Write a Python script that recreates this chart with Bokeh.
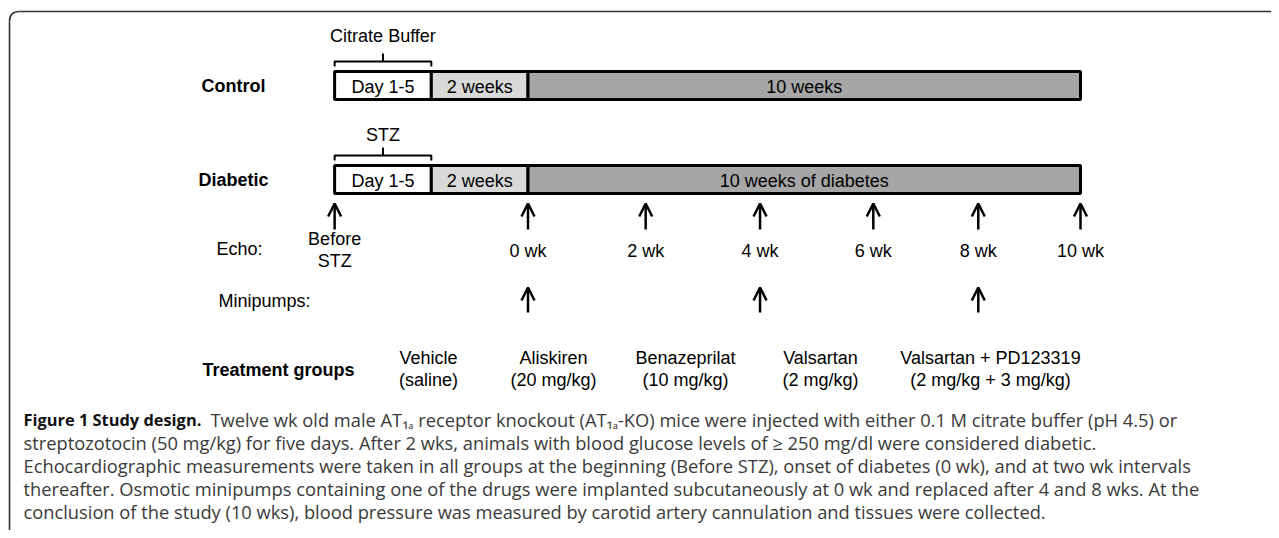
from bokeh.plotting import figure
from bokeh.models import ColumnDataSource, Range1d, Arrow, OpenHead
from bokeh.core.properties import value
from bokeh.embed import file_html
from bokeh.resources import INLINE

# ---------------- data ----------------
groups = ["Control", "Diabetic"]
bracket_labels = ["Citrate Buffer", "STZ"]
seg_labels_control = ["Day 1-5", "2 weeks", "10 weeks"]
seg_labels_diabetic = ["Day 1-5", "2 weeks", "10 weeks of diabetes"]
seg_start = [-3.5, -1.75, 0.0]          # timeline units (weeks after onset; pre-phase compressed)
seg_end = [-1.75, 0.0, 10.0]
seg_colors = ["#ffffff", "#d9d9d9", "#a6a6a6"]
echo_labels = ["", "0 wk", "2 wk", "4 wk", "6 wk", "8 wk", "10 wk"]
echo_pos = [-3.5, 0.0, 2.13, 4.2, 6.25, 8.15, 10.0]
minipump_pos = [0.0, 4.2, 8.15]
treatments = ["Vehicle", "Aliskiren", "Benazeprilat", "Valsartan", "Valsartan + PD123319"]
doses = ["(saline)", "(20 mg/kg)", "(10 mg/kg)", "(2 mg/kg)", "(2 mg/kg + 3 mg/kg)"]
caption_bold = "Figure 1 Study design."
caption_lines = [
    "Twelve wk old male AT\u2081\u2090 receptor knockout (AT\u2081\u2090-KO) mice were injected with either 0.1 M citrate buffer (pH 4.5) or",
    "streptozotocin (50 mg/kg) for five days. After 2 wks, animals with blood glucose levels of \u2265 250 mg/dl were considered diabetic.",
    "Echocardiographic measurements were taken in all groups at the beginning (Before STZ), onset of diabetes (0 wk), and at two wk intervals",
    "thereafter. Osmotic minipumps containing one of the drugs were implanted subcutaneously at 0 wk and replaced after 4 and 8 wks. At the",
    "conclusion of the study (10 wks), blood pressure was measured by carotid artery cannulation and tissues were collected.",
]

# ---------------- layout ----------------
W, H = 1271, 530
p = figure(width=W, height=H, output_backend="svg", toolbar_location=None,
           x_axis_type=None, y_axis_type=None,
           x_range=Range1d(0, W), y_range=Range1d(H, 0),
           min_border=0, outline_line_color=None, background_fill_color="white")
p.extra_x_ranges = {"wk": Range1d((0 - 527.5) / 55.25, (W - 527.5) / 55.25)}

F = value("Liberation Sans")
FS = "18px"

# frame (rounded corner top-left)
p.line(x=[19, W], y=[11, 11], line_color="#333333", line_width=1.6)
p.line(x=[9, 9], y=[21, H], line_color="#333333", line_width=1.6)
p.quadratic(x0=[9], y0=[21], x1=[19], y1=[11], cx=[9], cy=[11], line_color="#333333", line_width=1.6)

row_y = [85, 179]
seg_texts = [seg_labels_control, seg_labels_diabetic]
bracket_text_y = [35, 134]
for gi, g in enumerate(groups):
    yc = row_y[gi]
    src = ColumnDataSource(dict(left=seg_start, right=seg_end, color=seg_colors,
                                label=seg_texts[gi],
                                mid=[(a + b) / 2 for a, b in zip(seg_start, seg_end)]))
    p.quad(left="left", right="right", top=yc - 14, bottom=yc + 14, fill_color="color",
           line_color="black", line_width=3, source=src, x_range_name="wk")
    p.text(x="mid", y=yc + 1, text="label", source=src, x_range_name="wk", text_font=F,
           text_font_size=FS, text_align="center", text_baseline="middle", text_color="black")
    # bracket over first segment
    x0, x1 = seg_start[0], seg_end[0]
    xm = (x0 + x1) / 2
    top = yc - 14
    p.multi_line(xs=[[x0, x0, x1, x1], [xm, xm]],
                 ys=[[top - 5, top - 10, top - 10, top - 5], [top - 10, top - 18]],
                 line_color="black", line_width=2, x_range_name="wk")
    p.text(x=[xm], y=[bracket_text_y[gi]], text=[bracket_labels[gi]], x_range_name="wk",
           text_font=F, text_font_size=FS, text_align="center", text_baseline="middle")
    p.text(x=[233], y=[yc], text=[g], text_font=F, text_font_size=FS, text_font_style="bold",
           text_align="center", text_baseline="middle")

# echo arrows
esrc = ColumnDataSource(dict(x=echo_pos, y0=[229] * len(echo_pos), y1=[203] * len(echo_pos),
                             label=echo_labels))
p.add_layout(Arrow(x_start="x", y_start="y0", x_end="x", y_end="y1", source=esrc,
                   x_range_name="wk", line_width=2.5, line_color="black",
                   end=OpenHead(size=13, line_width=2.5, line_color="black")))
p.text(x="x", y=250, text="label", source=esrc, x_range_name="wk", text_font=F,
       text_font_size=FS, text_align="center", text_baseline="middle")
p.text(x=[echo_pos[0], echo_pos[0]], y=[238, 260], text=["Before", "STZ"], x_range_name="wk",
       text_font=F, text_font_size=FS, text_align="center", text_baseline="middle")
p.text(x=[216], y=[248], text=["Echo:"], text_font=F, text_font_size=FS,
       text_align="left", text_baseline="middle")

# minipumps
msrc = ColumnDataSource(dict(x=minipump_pos, y0=[312] * 3, y1=[287] * 3))
p.add_layout(Arrow(x_start="x", y_start="y0", x_end="x", y_end="y1", source=msrc,
                   x_range_name="wk", line_width=2.5, line_color="black",
                   end=OpenHead(size=13, line_width=2.5, line_color="black")))
p.text(x=[218], y=[300], text=["Minipumps:"], text_font=F, text_font_size=FS,
       text_align="left", text_baseline="middle")

# treatment groups
tx = [428, 553, 685, 820, 990]
p.text(x=tx, y=[357] * 5, text=treatments, text_font=F, text_font_size=FS,
       text_align="center", text_baseline="middle")
p.text(x=tx, y=[379] * 5, text=doses, text_font=F, text_font_size=FS,
       text_align="center", text_baseline="middle")
p.text(x=[202], y=[369], text=["Treatment groups"], text_font=F, text_font_size=FS,
       text_font_style="bold", text_align="left", text_baseline="middle")

# caption
CF = value("Open Sans")
cy = [419, 442, 465, 488, 511]
p.text(x=[23], y=[cy[0]], text=[caption_bold], text_font=CF, text_font_size="16.4px",
       text_font_style="bold", text_align="left", text_baseline="middle", text_color="#111111")
p.text(x=[210] + [23] * 4, y=cy, text=caption_lines, text_font=CF, text_font_size="18.3px",
       text_align="left", text_baseline="middle", text_color="#3a3a3a")

open("out.html", "w").write(file_html(p, INLINE))
